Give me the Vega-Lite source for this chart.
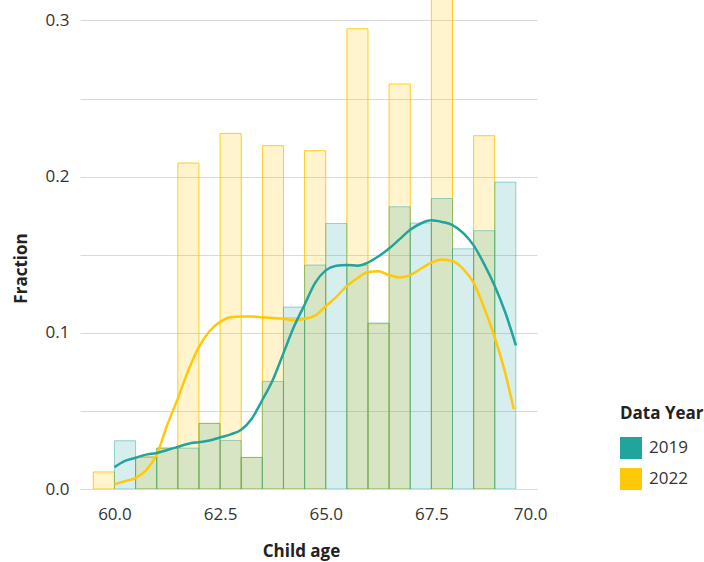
{
  "$schema": "https://vega.github.io/schema/vega-lite/v6.json",
  "width": 457,
  "height": 489,
  "autosize": {"type": "none"},
  "padding": {"left": 80, "top": 0, "right": 167, "bottom": 73},
  "config": {
    "view": {"stroke": null},
    "font": "Open Sans",
    "axis": {"labelFont": "Open Sans", "titleFont": "Open Sans"},
    "legend": {"labelFont": "Open Sans", "titleFont": "Open Sans"}
  },
  "datasets": {
    "bins": [
      {"year": "2022", "start": 59.5, "end": 60.0, "value": 0.0109},
      {"year": "2022", "start": 60.5, "end": 61.0, "value": 0.0205},
      {"year": "2022", "start": 61.0, "end": 61.5, "value": 0.0262},
      {"year": "2022", "start": 61.5, "end": 62.0, "value": 0.2087},
      {"year": "2022", "start": 62.0, "end": 62.5, "value": 0.042},
      {"year": "2022", "start": 62.5, "end": 63.0, "value": 0.2277},
      {"year": "2022", "start": 63.0, "end": 63.5, "value": 0.0202},
      {"year": "2022", "start": 63.5, "end": 64.0, "value": 0.2198},
      {"year": "2022", "start": 64.0, "end": 64.5, "value": 0.1095},
      {"year": "2022", "start": 64.5, "end": 65.0, "value": 0.2166},
      {"year": "2022", "start": 65.5, "end": 66.0, "value": 0.2947},
      {"year": "2022", "start": 66.0, "end": 66.5, "value": 0.1058},
      {"year": "2022", "start": 66.5, "end": 67.0, "value": 0.2593},
      {"year": "2022", "start": 67.5, "end": 68.0, "value": 0.335},
      {"year": "2022", "start": 68.5, "end": 69.0, "value": 0.2262},
      {"year": "2019", "start": 60.0, "end": 60.5, "value": 0.0309},
      {"year": "2019", "start": 60.5, "end": 61.0, "value": 0.0205},
      {"year": "2019", "start": 61.0, "end": 61.5, "value": 0.0262},
      {"year": "2019", "start": 61.5, "end": 62.0, "value": 0.0262},
      {"year": "2019", "start": 62.0, "end": 62.5, "value": 0.042},
      {"year": "2019", "start": 62.5, "end": 63.0, "value": 0.0311},
      {"year": "2019", "start": 63.0, "end": 63.5, "value": 0.0202},
      {"year": "2019", "start": 63.5, "end": 64.0, "value": 0.0689},
      {"year": "2019", "start": 64.0, "end": 64.5, "value": 0.1165},
      {"year": "2019", "start": 64.5, "end": 65.0, "value": 0.1434},
      {"year": "2019", "start": 65.0, "end": 65.5, "value": 0.170},
      {"year": "2019", "start": 65.5, "end": 66.0, "value": 0.1434},
      {"year": "2019", "start": 66.0, "end": 66.5, "value": 0.1063},
      {"year": "2019", "start": 66.5, "end": 67.0, "value": 0.1807},
      {"year": "2019", "start": 67.0, "end": 67.5, "value": 0.1703},
      {"year": "2019", "start": 67.5, "end": 68.0, "value": 0.186},
      {"year": "2019", "start": 68.0, "end": 68.5, "value": 0.1538},
      {"year": "2019", "start": 68.5, "end": 69.0, "value": 0.1654},
      {"year": "2019", "start": 69.0, "end": 69.5, "value": 0.1965}
    ],
    "kde": [
      {"year": "2019", "age": 60.0, "density": 0.014},
      {"year": "2019", "age": 60.25, "density": 0.018},
      {"year": "2019", "age": 60.5, "density": 0.020},
      {"year": "2019", "age": 60.75, "density": 0.022},
      {"year": "2019", "age": 61.0, "density": 0.023},
      {"year": "2019", "age": 61.25, "density": 0.025},
      {"year": "2019", "age": 61.5, "density": 0.027},
      {"year": "2019", "age": 61.75, "density": 0.029},
      {"year": "2019", "age": 62.0, "density": 0.030},
      {"year": "2019", "age": 62.25, "density": 0.031},
      {"year": "2019", "age": 62.5, "density": 0.033},
      {"year": "2019", "age": 62.75, "density": 0.035},
      {"year": "2019", "age": 63.0, "density": 0.038},
      {"year": "2019", "age": 63.25, "density": 0.045},
      {"year": "2019", "age": 63.5, "density": 0.057},
      {"year": "2019", "age": 63.75, "density": 0.070},
      {"year": "2019", "age": 64.0, "density": 0.087},
      {"year": "2019", "age": 64.25, "density": 0.104},
      {"year": "2019", "age": 64.5, "density": 0.118},
      {"year": "2019", "age": 64.75, "density": 0.132},
      {"year": "2019", "age": 65.0, "density": 0.140},
      {"year": "2019", "age": 65.25, "density": 0.143},
      {"year": "2019", "age": 65.5, "density": 0.1435},
      {"year": "2019", "age": 65.75, "density": 0.143},
      {"year": "2019", "age": 66.0, "density": 0.145},
      {"year": "2019", "age": 66.25, "density": 0.149},
      {"year": "2019", "age": 66.5, "density": 0.154},
      {"year": "2019", "age": 66.75, "density": 0.160},
      {"year": "2019", "age": 67.0, "density": 0.166},
      {"year": "2019", "age": 67.25, "density": 0.170},
      {"year": "2019", "age": 67.5, "density": 0.172},
      {"year": "2019", "age": 67.75, "density": 0.171},
      {"year": "2019", "age": 68.0, "density": 0.169},
      {"year": "2019", "age": 68.25, "density": 0.164},
      {"year": "2019", "age": 68.5, "density": 0.156},
      {"year": "2019", "age": 68.75, "density": 0.144},
      {"year": "2019", "age": 69.0, "density": 0.130},
      {"year": "2019", "age": 69.25, "density": 0.113},
      {"year": "2019", "age": 69.5, "density": 0.092},
      {"year": "2022", "age": 60.0, "density": 0.003},
      {"year": "2022", "age": 60.25, "density": 0.005},
      {"year": "2022", "age": 60.5, "density": 0.007},
      {"year": "2022", "age": 60.75, "density": 0.012},
      {"year": "2022", "age": 61.0, "density": 0.022},
      {"year": "2022", "age": 61.25, "density": 0.041},
      {"year": "2022", "age": 61.5, "density": 0.058},
      {"year": "2022", "age": 61.75, "density": 0.076},
      {"year": "2022", "age": 62.0, "density": 0.091},
      {"year": "2022", "age": 62.25, "density": 0.101},
      {"year": "2022", "age": 62.5, "density": 0.107},
      {"year": "2022", "age": 62.75, "density": 0.110},
      {"year": "2022", "age": 63.0, "density": 0.1105},
      {"year": "2022", "age": 63.25, "density": 0.1105},
      {"year": "2022", "age": 63.5, "density": 0.110},
      {"year": "2022", "age": 63.75, "density": 0.1095},
      {"year": "2022", "age": 64.0, "density": 0.109},
      {"year": "2022", "age": 64.25, "density": 0.108},
      {"year": "2022", "age": 64.5, "density": 0.109},
      {"year": "2022", "age": 64.75, "density": 0.111},
      {"year": "2022", "age": 65.0, "density": 0.117},
      {"year": "2022", "age": 65.25, "density": 0.123},
      {"year": "2022", "age": 65.5, "density": 0.130},
      {"year": "2022", "age": 65.75, "density": 0.135},
      {"year": "2022", "age": 66.0, "density": 0.139},
      {"year": "2022", "age": 66.25, "density": 0.1395},
      {"year": "2022", "age": 66.5, "density": 0.137},
      {"year": "2022", "age": 66.75, "density": 0.1355},
      {"year": "2022", "age": 67.0, "density": 0.137},
      {"year": "2022", "age": 67.25, "density": 0.141},
      {"year": "2022", "age": 67.5, "density": 0.145},
      {"year": "2022", "age": 67.75, "density": 0.147},
      {"year": "2022", "age": 68.0, "density": 0.146},
      {"year": "2022", "age": 68.25, "density": 0.141},
      {"year": "2022", "age": 68.5, "density": 0.132},
      {"year": "2022", "age": 68.75, "density": 0.116},
      {"year": "2022", "age": 69.0, "density": 0.097},
      {"year": "2022", "age": 69.25, "density": 0.074},
      {"year": "2022", "age": 69.45, "density": 0.051}
    ]
  },
  "layer": [
    {
      "data": {"name": "bins"},
      "transform": [{"filter": "datum.year == '2022'"}],
      "mark": {"type": "bar", "clip": true, "fillOpacity": 0.2, "stroke": "#FFC907", "strokeOpacity": 0.9, "strokeWidth": 1},
      "encoding": {
        "x": {
          "field": "start", "type": "quantitative",
          "scale": {"domain": [59.185, 70.0], "nice": false, "zero": false},
          "axis": {
            "values": [60, 62.5, 65, 67.5, 70], "format": ".1f", "grid": false, "ticks": false, "domain": false,
            "labelFontSize": 17, "labelColor": "#333333", "labelPadding": 17, "labelFlush": 1, "labelFlushOffset": 10,
            "titleFontSize": 17, "titleFontWeight": "bold", "titleColor": "#222222",
            "titleX": 221, "titleY": 67, "titleBaseline": "alphabetic"
          },
          "title": "Child age"
        },
        "x2": {"field": "end"},
        "y": {
          "field": "value", "type": "quantitative",
          "scale": {"domain": [0, 0.3131], "nice": false, "zero": true},
          "axis": {
            "values": [0, 0.05, 0.1, 0.15, 0.2, 0.25, 0.3],
            "labelExpr": "round(datum.value * 100) % 10 == 0 ? format(datum.value, '.1f') : ''",
            "grid": true, "gridColor": "#d9d9d9", "gridWidth": 1, "ticks": false, "domain": false,
            "labelFontSize": 17, "labelColor": "#333333", "labelPadding": 11,
            "titleFontSize": 17, "titleFontWeight": "bold", "titleColor": "#222222",
            "titleX": -54, "titleY": 268, "titleBaseline": "alphabetic"
          },
          "title": "Fraction"
        },
        "y2": {"datum": 0},
        "fill": {
          "field": "year", "type": "nominal",
          "scale": {"domain": ["2019", "2022"], "range": ["#21A39E", "#FFC907"]},
          "title": "Data Year",
          "legend": {
            "orient": "none", "legendX": 540, "legendY": 406,
            "symbolType": "square", "symbolSize": 484, "symbolOpacity": 1, "symbolStrokeWidth": 0,
            "rowPadding": 9, "labelOffset": 7, "titlePadding": 14,
            "labelFontSize": 17, "labelColor": "#333333",
            "titleFontSize": 17, "titleFontWeight": "bold", "titleColor": "#222222",
            "encode": {"symbols": {"update": {"fillOpacity": {"value": 1}, "opacity": {"value": 1}, "strokeWidth": {"value": 0}}}}
          }
        }
      }
    },
    {
      "data": {"name": "bins"},
      "transform": [{"filter": "datum.year == '2019'"}],
      "mark": {"type": "bar", "clip": true, "fillOpacity": 0.18, "stroke": "#21A39E", "strokeOpacity": 0.45, "strokeWidth": 1},
      "encoding": {
        "x": {"field": "start", "type": "quantitative"},
        "x2": {"field": "end"},
        "y": {"field": "value", "type": "quantitative"},
        "y2": {"datum": 0},
        "fill": {"field": "year", "type": "nominal"}
      }
    },
    {
      "data": {"name": "kde"},
      "transform": [{"filter": "datum.year == '2022'"}],
      "mark": {"type": "line", "clip": true, "interpolate": "monotone", "strokeWidth": 2.5, "color": "#FFC907"},
      "encoding": {
        "x": {"field": "age", "type": "quantitative"},
        "y": {"field": "density", "type": "quantitative"}
      }
    },
    {
      "data": {"name": "kde"},
      "transform": [{"filter": "datum.year == '2019'"}],
      "mark": {"type": "line", "clip": true, "interpolate": "monotone", "strokeWidth": 2.5, "color": "#21A39E"},
      "encoding": {
        "x": {"field": "age", "type": "quantitative"},
        "y": {"field": "density", "type": "quantitative"}
      }
    }
  ]
}
